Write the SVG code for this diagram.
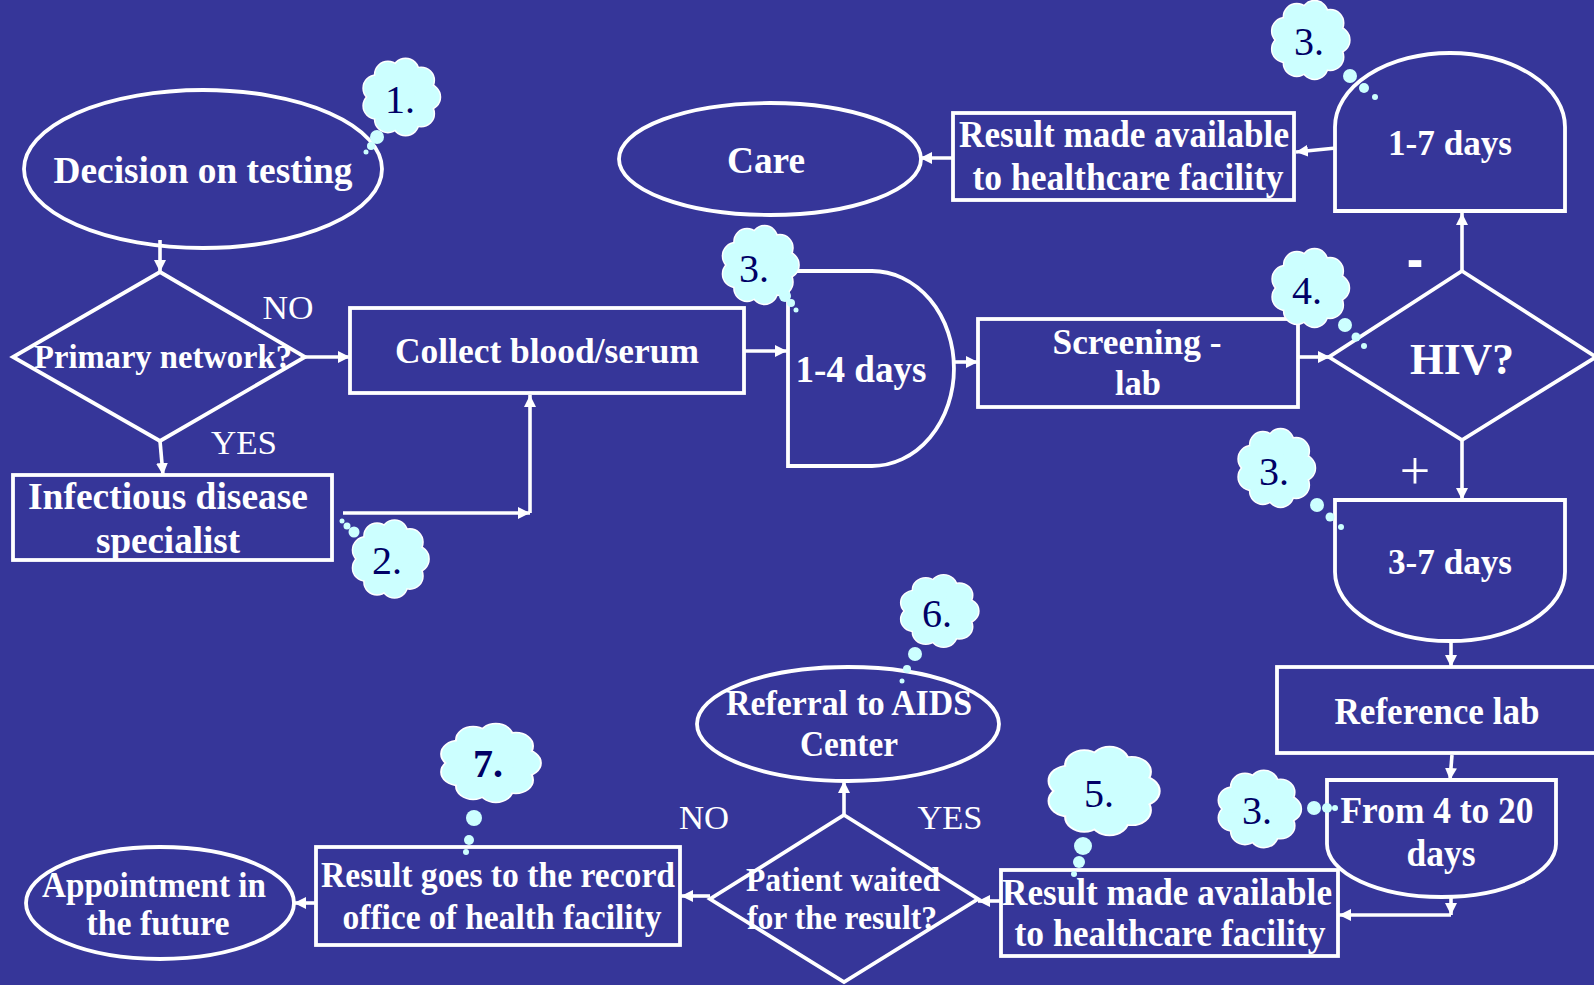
<svg xmlns="http://www.w3.org/2000/svg" xmlns:xlink="http://www.w3.org/1999/xlink" width="1594" height="985" viewBox="0 0 1594 985">
<style>
.lbl{font-family:"Liberation Serif","Times New Roman",serif;font-weight:bold;fill:#fff;text-anchor:middle}
.yn{font-family:"Liberation Serif","Times New Roman",serif;fill:#fff;text-anchor:middle}
.num{font-family:"Liberation Serif","Times New Roman",serif;fill:#000066;text-anchor:middle;font-size:40px}
.shape{fill:none;stroke:#fff;stroke-width:3.8}
.conn{fill:none;stroke:#fff;stroke-width:3.6;marker-end:url(#ah)}
.dot{fill:#ccffff}
</style>
<defs>
<marker id="ah" viewBox="0 0 10 10" refX="10" refY="5" markerWidth="12" markerHeight="13" markerUnits="userSpaceOnUse" orient="auto">
<path d="M0,0 L10,5 L0,10 z" fill="#fff"/>
</marker>
<g id="cc">
<circle cx="0" cy="0" r="27"/>
<circle cx="27" cy="0" r="13"/>
<circle cx="20.7" cy="17.4" r="13"/>
<circle cx="4.7" cy="26.6" r="13"/>
<circle cx="-13.5" cy="23.4" r="13"/>
<circle cx="-25.4" cy="9.2" r="13"/>
<circle cx="-25.4" cy="-9.2" r="13"/>
<circle cx="-13.5" cy="-23.4" r="13"/>
<circle cx="4.7" cy="-26.6" r="13"/>
<circle cx="20.7" cy="-17.4" r="13"/>
</g>
<g id="cloud">
<use xlink:href="#cc" fill="#ccffff" stroke="#ffffff" stroke-width="3"/>
<use xlink:href="#cc" fill="#ccffff"/>
</g>
</defs>
<rect x="0" y="0" width="1594" height="985" fill="#363699"/>

<g id="connectors">
<path class="conn" d="M160,240 V272"/>
<path class="conn" d="M305,357 H350"/>
<path class="conn" d="M160,441 L163,475"/>
<path class="conn" d="M343,513 H530"/>
<path class="conn" d="M530,513 V395"/>
<path class="conn" d="M744,351 H787"/>
<path class="conn" d="M954,362 H978"/>
<path class="conn" d="M1298,357 H1330"/>
<path class="conn" d="M1462,271 V213"/>
<path class="conn" d="M1336,148 L1296,152"/>
<path class="conn" d="M953,158 H920"/>
<path class="conn" d="M1462,440 V500"/>
<path class="conn" d="M1451,640 V667"/>
<path class="conn" d="M1452,755 L1450,780"/>
<path class="conn" d="M1451,897 V915"/>
<path class="conn" d="M1451,915 H1339"/>
<path class="conn" d="M1001,901 H978"/>
<path class="conn" d="M844,815 V781"/>
<path class="conn" d="M710,896 H681"/>
<path class="conn" d="M316,903 H294"/>
</g>

<g id="decision">
<ellipse class="shape" cx="203" cy="169" rx="179" ry="79"/>
<text class="lbl" x="203" y="183" font-size="37" textLength="299" lengthAdjust="spacingAndGlyphs">Decision on testing</text>
</g>
<g id="primary">
<path class="shape" d="M160,272 L305,357 L160,441 L13,357 Z"/>
<text class="lbl" x="163" y="368" font-size="33" textLength="258" lengthAdjust="spacingAndGlyphs">Primary network?</text>
</g>
<g id="label-no1"><text class="yn" x="288" y="319" font-size="34" textLength="51" lengthAdjust="spacingAndGlyphs">NO</text></g>
<g id="label-yes1"><text class="yn" x="244" y="454" font-size="34" textLength="66" lengthAdjust="spacingAndGlyphs">YES</text></g>
<g id="collect">
<rect class="shape" x="350" y="308" width="394" height="85"/>
<text class="lbl" x="547" y="363" font-size="36" textLength="304" lengthAdjust="spacingAndGlyphs">Collect blood/serum</text>
</g>
<g id="infectious">
<rect class="shape" x="13" y="475" width="319" height="85"/>
<text class="lbl" x="168" y="509" font-size="38" textLength="280" lengthAdjust="spacingAndGlyphs">Infectious disease</text>
<text class="lbl" x="168" y="553" font-size="38" textLength="144" lengthAdjust="spacingAndGlyphs">specialist</text>
</g>
<g id="days14">
<path class="shape" d="M788,271 H872 A82,97.5 0 0 1 872,466 H788 Z"/>
<text class="lbl" x="861" y="382" font-size="38" textLength="131" lengthAdjust="spacingAndGlyphs">1-4 days</text>
</g>
<g id="screening">
<rect class="shape" x="978" y="319" width="320" height="88"/>
<text class="lbl" x="1137" y="354" font-size="36" textLength="169" lengthAdjust="spacingAndGlyphs">Screening -</text>
<text class="lbl" x="1138" y="395" font-size="36" textLength="46" lengthAdjust="spacingAndGlyphs">lab</text>
</g>
<g id="hiv">
<path class="shape" d="M1462,271 L1596,357 L1462,440 L1329,357 Z"/>
<text class="lbl" x="1462" y="374" font-size="45" textLength="104" lengthAdjust="spacingAndGlyphs">HIV?</text>
</g>
<g id="label-minus"><text class="lbl" x="1415" y="283" font-size="80" textLength="16" lengthAdjust="spacingAndGlyphs">-</text></g>
<g id="label-plus"><text class="yn" x="1415" y="489" font-size="54">+</text></g>
<g id="days17">
<path class="shape" d="M1335,211 V127 A115,74 0 0 1 1565,127 V211 Z"/>
<text class="lbl" x="1450" y="155" font-size="36" textLength="124" lengthAdjust="spacingAndGlyphs">1-7 days</text>
</g>
<g id="result-top">
<rect class="shape" x="953" y="113" width="341" height="87"/>
<text class="lbl" x="1124" y="147" font-size="38" textLength="330" lengthAdjust="spacingAndGlyphs">Result made available</text>
<text class="lbl" x="1128" y="190" font-size="38" textLength="311" lengthAdjust="spacingAndGlyphs">to healthcare facility</text>
</g>
<g id="care">
<ellipse class="shape" cx="770" cy="159" rx="151" ry="56"/>
<text class="lbl" x="766" y="173" font-size="38" textLength="78" lengthAdjust="spacingAndGlyphs">Care</text>
</g>
<g id="days37">
<path class="shape" d="M1335,500 H1565 V572 A115,69 0 0 1 1335,572 Z"/>
<text class="lbl" x="1450" y="574" font-size="36" textLength="124" lengthAdjust="spacingAndGlyphs">3-7 days</text>
</g>
<g id="reference">
<rect class="shape" x="1277" y="667" width="330" height="86"/>
<text class="lbl" x="1437" y="724" font-size="37" textLength="205" lengthAdjust="spacingAndGlyphs">Reference lab</text>
</g>
<g id="days420">
<path class="shape" d="M1327,780 H1556 V844 A114.5,53 0 0 1 1327,844 Z"/>
<text class="lbl" x="1437" y="823" font-size="37" textLength="193" lengthAdjust="spacingAndGlyphs">From 4 to 20</text>
<text class="lbl" x="1441" y="866" font-size="37" textLength="69" lengthAdjust="spacingAndGlyphs">days</text>
</g>
<g id="result-bottom">
<rect class="shape" x="1001" y="870" width="337" height="86"/>
<text class="lbl" x="1167" y="905" font-size="38" textLength="330" lengthAdjust="spacingAndGlyphs">Result made available</text>
<text class="lbl" x="1170" y="946" font-size="38" textLength="311" lengthAdjust="spacingAndGlyphs">to healthcare facility</text>
</g>
<g id="patient">
<path class="shape" d="M844,815 L978,899 L844,982 L710,899 Z"/>
<text class="lbl" x="843" y="891" font-size="33" textLength="194" lengthAdjust="spacingAndGlyphs">Patient waited</text>
<text class="lbl" x="842" y="929" font-size="33" textLength="190" lengthAdjust="spacingAndGlyphs">for the result?</text>
</g>
<g id="label-no2"><text class="yn" x="704" y="829" font-size="34" textLength="50" lengthAdjust="spacingAndGlyphs">NO</text></g>
<g id="label-yes2"><text class="yn" x="950" y="829" font-size="34" textLength="65" lengthAdjust="spacingAndGlyphs">YES</text></g>
<g id="referral">
<ellipse class="shape" cx="848" cy="724" rx="151" ry="57"/>
<text class="lbl" x="849" y="715" font-size="35" textLength="246" lengthAdjust="spacingAndGlyphs">Referral to AIDS</text>
<text class="lbl" x="849" y="756" font-size="35" textLength="98" lengthAdjust="spacingAndGlyphs">Center</text>
</g>
<g id="record">
<rect class="shape" x="316" y="847" width="364" height="98"/>
<text class="lbl" x="498" y="887" font-size="36" textLength="354" lengthAdjust="spacingAndGlyphs">Result goes to the record</text>
<text class="lbl" x="502" y="929" font-size="36" textLength="319" lengthAdjust="spacingAndGlyphs">office of health facility</text>
</g>
<g id="appointment">
<ellipse class="shape" cx="160" cy="903" rx="134" ry="56"/>
<text class="lbl" x="154" y="897" font-size="35" textLength="224" lengthAdjust="spacingAndGlyphs">Appointment in</text>
<text class="lbl" x="158" y="935" font-size="35" textLength="143" lengthAdjust="spacingAndGlyphs">the future</text>
</g>

<g id="bubble1">
<use xlink:href="#cloud" transform="translate(401,97) scale(0.97,0.96)"/>
<circle class="dot" cx="377" cy="137" r="7"/><circle class="dot" cx="371" cy="146" r="4"/><circle class="dot" cx="366" cy="152" r="2.5"/>
<text class="num" x="400" y="113">1.</text>
</g>
<g id="bubble2">
<use xlink:href="#cloud" transform="translate(390,559) scale(0.96,0.97)"/>
<circle class="dot" cx="354" cy="532" r="5.5"/><circle class="dot" cx="347" cy="526" r="3.5"/><circle class="dot" cx="342" cy="521" r="2.5"/>
<text class="num" x="387" y="574">2.</text>
</g>
<g id="bubble3a">
<use xlink:href="#cloud" transform="translate(760,265) scale(0.96,0.98)"/>
<circle class="dot" cx="785" cy="296" r="6"/><circle class="dot" cx="791" cy="303" r="4"/><circle class="dot" cx="796" cy="310" r="2.5"/>
<text class="num" x="754" y="282">3.</text>
</g>
<g id="bubble3b">
<use xlink:href="#cloud" transform="translate(1310,40) scale(0.98,0.98)"/>
<circle class="dot" cx="1350" cy="76" r="7"/><circle class="dot" cx="1364" cy="88" r="5"/><circle class="dot" cx="1375" cy="97" r="3"/>
<text class="num" x="1309" y="55">3.</text>
</g>
<g id="bubble4">
<use xlink:href="#cloud" transform="translate(1310,288) scale(0.97,0.98)"/>
<circle class="dot" cx="1345" cy="325" r="7"/><circle class="dot" cx="1356" cy="337" r="4.5"/><circle class="dot" cx="1364" cy="346" r="3"/>
<text class="num" x="1307" y="304">4.</text>
</g>
<g id="bubble3c">
<use xlink:href="#cloud" transform="translate(1276,468) scale(0.97,0.98)"/>
<circle class="dot" cx="1317" cy="505" r="7"/><circle class="dot" cx="1330" cy="517" r="4.5"/><circle class="dot" cx="1341" cy="527" r="3"/>
<text class="num" x="1274" y="485">3.</text>
</g>
<g id="bubble3d">
<use xlink:href="#cloud" transform="translate(1259,809) scale(1.04,0.96)"/>
<circle class="dot" cx="1314" cy="808" r="7"/><circle class="dot" cx="1327" cy="808" r="5"/><circle class="dot" cx="1335" cy="808" r="3"/>
<text class="num" x="1257" y="824">3.</text>
</g>
<g id="bubble5">
<use xlink:href="#cloud" transform="translate(1103,791) scale(1.39,1.1)"/>
<circle class="dot" cx="1083" cy="846" r="9"/><circle class="dot" cx="1079" cy="862" r="6"/><circle class="dot" cx="1074" cy="874" r="3"/>
<text class="num" x="1099" y="807">5.</text>
</g>
<g id="bubble6">
<use xlink:href="#cloud" transform="translate(939,611) scale(0.98,0.9)"/>
<circle class="dot" cx="915" cy="654" r="7"/><circle class="dot" cx="907" cy="669" r="4"/><circle class="dot" cx="902" cy="681" r="2.5"/>
<text class="num" x="937" y="627">6.</text>
</g>
<g id="bubble7">
<use xlink:href="#cloud" transform="translate(490,763) scale(1.25,0.98)"/>
<circle class="dot" cx="474" cy="818" r="8"/><circle class="dot" cx="469" cy="840" r="5"/><circle class="dot" cx="466" cy="852" r="3"/>
<text class="num" x="488" y="777" font-weight="bold" font-size="36">7.</text>
</g>
</svg>
